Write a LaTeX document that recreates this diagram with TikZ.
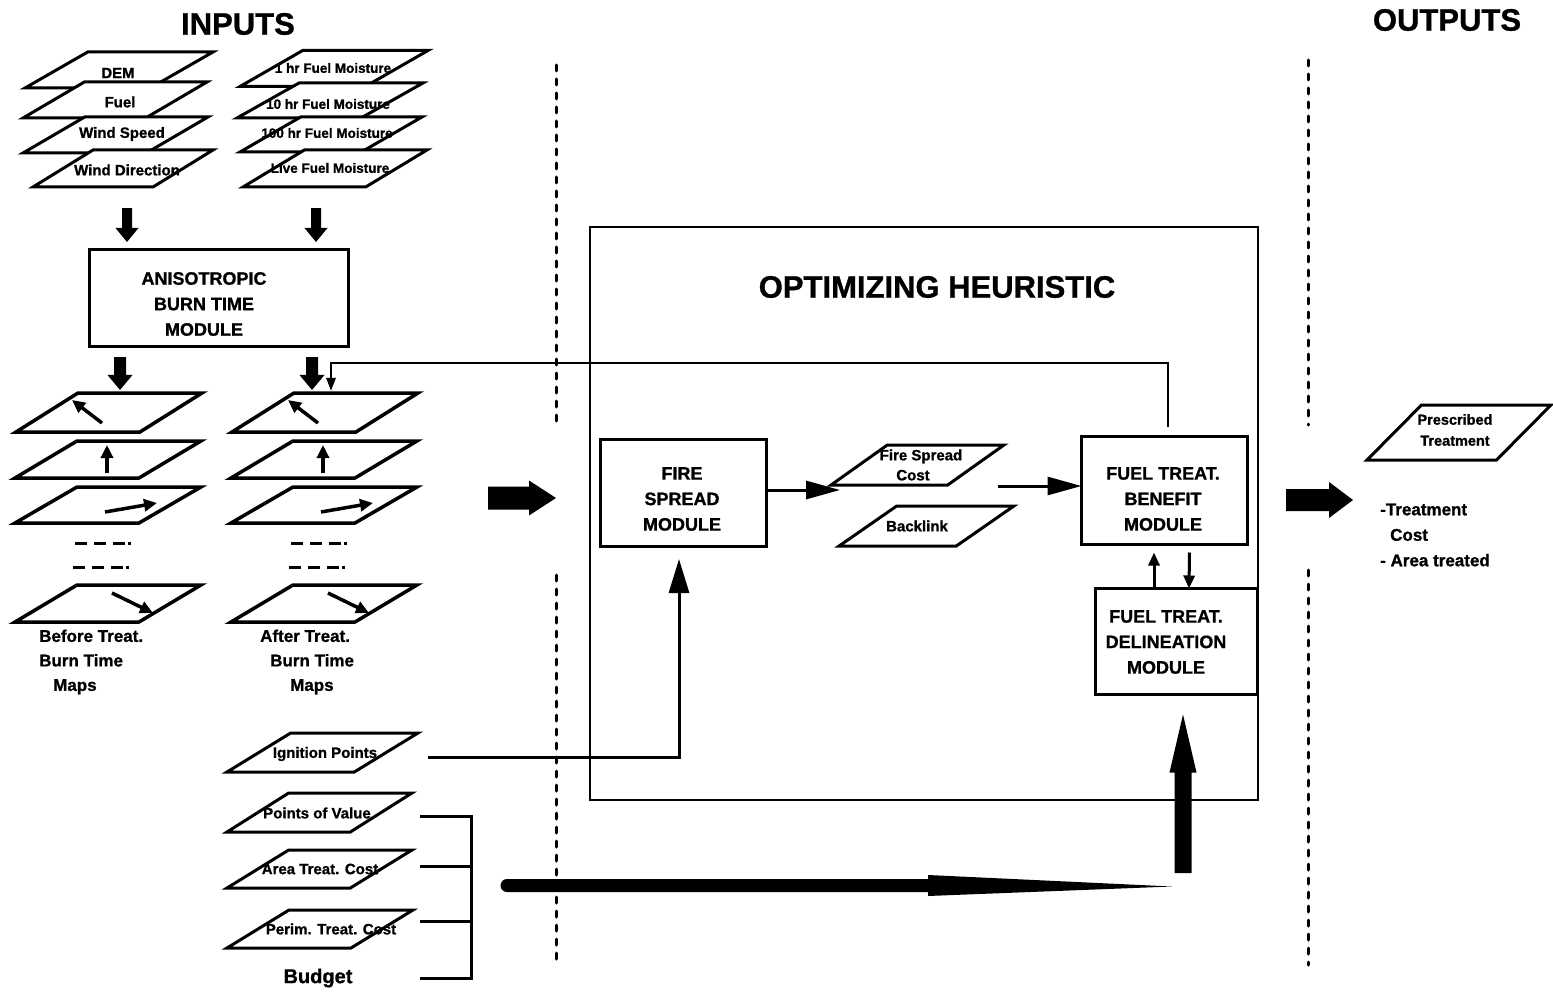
\documentclass[tikz,border=0pt]{standalone}
\usepackage{fontspec}
\setmainfont[BoldFeatures={FakeBold=1}]{Liberation Sans}
\usetikzlibrary{arrows.meta,shapes.geometric,calc}

\newcommand\fsz[2]{\fontsize{#1}{#2}\selectfont\bfseries}

% filled block arrows (shaft width, head width, head length)
\newcommand\blockdown[5]{%
  \fill let \p1=#1, \p2=#2 in
    ({\x1-0.5*(#3)},\y1) -- ({\x1+0.5*(#3)},\y1) -- ({\x1+0.5*(#3)},{\y2+(#5)})
    -- ({\x1+0.5*(#4)},{\y2+(#5)}) -- (\x1,\y2) -- ({\x1-0.5*(#4)},{\y2+(#5)})
    -- ({\x1-0.5*(#3)},{\y2+(#5)}) -- cycle;}
\newcommand\blockup[5]{%
  \fill let \p1=#1, \p2=#2 in
    ({\x1-0.5*(#3)},\y1) -- ({\x1+0.5*(#3)},\y1) -- ({\x1+0.5*(#3)},{\y2-(#5)})
    -- ({\x1+0.5*(#4)},{\y2-(#5)}) -- (\x1,\y2) -- ({\x1-0.5*(#4)},{\y2-(#5)})
    -- ({\x1-0.5*(#3)},{\y2-(#5)}) -- cycle;}
\newcommand\blockright[5]{%
  \fill let \p1=#1, \p2=#2 in
    (\x1,{\y1-0.5*(#3)}) -- (\x1,{\y1+0.5*(#3)}) -- ({\x2-(#5)},{\y1+0.5*(#3)})
    -- ({\x2-(#5)},{\y1+0.5*(#4)}) -- (\x2,\y1) -- ({\x2-(#5)},{\y1-0.5*(#4)})
    -- ({\x2-(#5)},{\y1-0.5*(#3)}) -- cycle;}

\tikzset{
  layer/.style={trapezium, trapezium left angle=45, trapezium right angle=135,
    trapezium stretches=true, draw, fill=white, line width=3pt,
    inner sep=2pt, outer sep=0pt},
  maplayer/.style={layer, line width=3.5pt, minimum width=186pt},
  module/.style={draw, line width=3pt, fill=white, inner sep=0pt, outer sep=0pt},
  title/.style={font=\fsz{31}{36}, inner sep=0pt},
  modtxt/.style={font=\fsz{18}{25.5}, align=center, inner sep=0pt},
  lbl/.style={font=\fsz{15}{18}, inner sep=0pt},
  tinylbl/.style={font=\fsz{13.5}{16}, inner sep=0pt},
  maptxt/.style={font=\fsz{17}{24.5}, align=left, inner sep=0pt, anchor=west},
  marr/.style={line width=3.5pt, -{Triangle[length=13pt,width=12pt]}},
  conn/.style={line width=3pt, -{Triangle[length=34pt,width=18pt]}},
  small/.style={line width=3pt, -{Triangle[length=13pt,width=11pt]}},
  fb/.style={line width=2.5pt, -{Triangle[length=13pt,width=9pt]}},
  plain/.style={line width=3pt},
  sep/.style={line width=3pt, line cap=round, dash pattern=on 6pt off 8pt},
  dashrow/.style={line width=3pt, dash pattern=on 12pt off 7pt},
}

\begin{document}
\begin{tikzpicture}[x=1pt,y=-1pt]
\useasboundingbox (0,0) rectangle (1553,995);

% ---------- titles ----------
\node[title] (inputs) at (238,24) {INPUTS};
\node[title] (outputs) at (1447,20) {OUTPUTS};

% ---------- input layers ----------
\node[layer, minimum width=188pt, minimum height=36pt] (dem) at (119,70) {};
\node[lbl] (t-dem) at (118,73) {DEM};
\node[layer, minimum width=184pt, minimum height=36pt] (fuel) at (115,100) {};
\node[lbl] (t-fuel) at (120,102) {Fuel};
\node[layer, minimum width=185pt, minimum height=36pt] (wspd) at (115.5,135) {};
\node[lbl] (t-wspd) at (122,134) {Wind Speed};
\node[layer, minimum width=180pt, minimum height=37pt] (wdir) at (123,168.5) {};
\node[lbl] (t-wdir) at (127,170) {Wind Direction};

\node[layer, minimum width=188pt, minimum height=36pt] (m1) at (334,68.5) {};
\node[tinylbl] (t-m1) at (333,68) {1 hr Fuel Moisture};
\node[layer, minimum width=186pt, minimum height=35pt] (m10) at (330,100.5) {};
\node[tinylbl] (t-m10) at (328,104) {10 hr Fuel Moisture};
\node[layer, minimum width=182pt, minimum height=35pt] (m100) at (331,134.5) {};
\node[tinylbl] (t-m100) at (327,133) {100 hr Fuel Moisture};
\node[layer, minimum width=184pt, minimum height=37pt] (mlive) at (335,168.5) {};
\node[tinylbl] (t-mlive) at (330,168) {Live Fuel Moisture};

% ---------- burn time module ----------
\node[module, minimum width=259pt, minimum height=96pt] (aniso) at (219,298) {};
\node[modtxt] (t-aniso) at (204,304) {ANISOTROPIC\\BURN TIME\\MODULE};

\blockdown{([xshift=4pt,yshift=-21pt]wdir.south)}{([xshift=-92pt,yshift=8pt]aniso.north)}{10pt}{23pt}{14pt}
\blockdown{([xshift=-19pt,yshift=-21pt]mlive.south)}{([xshift=97pt,yshift=8pt]aniso.north)}{10pt}{23pt}{14pt}

% ---------- burn time maps ----------
\foreach \side/\dx in {b/0, a/216} {
  \node[maplayer, minimum height=39pt] (\side1) at (109+\dx,412.5) {};
  \draw[marr] ($(\side1.center)+(-7,10.5)$) -- ($(\side1.center)+(-37,-12.5)$);
  \node[maplayer, minimum height=37pt] (\side2) at (108+\dx,459.5) {};
  \draw[marr] ($(\side2.center)+(-1,13.5)$) -- ($(\side2.center)+(-1,-14.5)$);
  \node[maplayer, minimum height=36pt] (\side3) at (108+\dx,505) {};
  \draw[marr] ($(\side3.center)+(-3,7)$) -- ($(\side3.center)+(49,-2)$);
  \node[maplayer, minimum height=37pt] (\side4) at (108+\dx,603.5) {};
  \draw[marr] ($(\side4.center)+(4,-10.5)$) -- ($(\side4.center)+(45,9.5)$);
  \draw[dashrow] (75+\dx,543) -- (125+\dx,543);
  \draw[line width=3pt] (128+\dx,543) -- (131+\dx,543);
  \draw[dashrow] (73+\dx,567) -- (123+\dx,567);
  \draw[line width=3pt] (126+\dx,567) -- (129+\dx,567);
}
\node[maptxt] (t-before) at (39,662) {Before Treat.\\Burn Time\\\hspace*{14pt}Maps};
\node[maptxt] (t-after) at (260,662) {After Treat.\\\hspace*{10pt}Burn Time\\\hspace*{30pt}Maps};

\blockdown{([xshift=-99pt,yshift=-11pt]aniso.south)}{([xshift=11pt,yshift=3pt]b1.north)}{12pt}{25pt}{15pt}
\blockdown{([xshift=93pt,yshift=-11pt]aniso.south)}{([xshift=-13pt,yshift=3pt]a1.north)}{12pt}{25pt}{15pt}

% ---------- other inputs ----------
\node[layer, minimum width=191pt, minimum height=39pt] (ign) at (322.5,752.5) {};
\node[lbl] (t-ign) at (325,754) {Ignition Points};
\node[layer, minimum width=185pt, minimum height=39pt] (pov) at (319.5,812.5) {};
\node[lbl] (t-pov) at (317,813) {Points of Value};
\node[layer, minimum width=185pt, minimum height=38pt] (area) at (319.5,869) {};
\node[lbl] (t-area) at (320,869) {Area Treat. Cost};
\node[layer, minimum width=186pt, minimum height=38pt] (perim) at (320,929) {};
\node[lbl] (t-perim) at (331,929) {Perim. Treat. Cost};
\node[font=\fsz{20}{24}, inner sep=0pt] (budget) at (318,978) {Budget};

% bracket gathering the cost inputs
\coordinate (spinetop) at (471,816);
\coordinate (spinebot) at (471,978);
\draw[plain] (420,816) -- (spinetop) -- (spinebot) -- (420,978);
\draw[plain] (420,866) -- (spinetop |- 0,866);
\draw[plain] (420,921) -- (spinetop |- 0,921);

% ---------- separators ----------
\draw[sep] (556,65) -- (556,425);
\draw[sep] (556,575) -- (556,965);
\draw[sep] (1308,60) -- (1308,425);
\draw[sep] (1308,570) -- (1308,965);

% ---------- optimizing heuristic ----------
\node[draw, line width=2pt, minimum width=668pt, minimum height=573pt, inner sep=0pt] (opt) at (924,513.5) {};
\node[font=\fsz{31}{36}, inner sep=0pt] (t-opt) at (937,287) {OPTIMIZING HEURISTIC};

\node[module, minimum width=166pt, minimum height=107pt] (fs) at (683,492.5) {};
\node[modtxt] (t-fs) at (682,499) {FIRE\\SPREAD\\MODULE};
\node[module, minimum width=166pt, minimum height=108pt] (ben) at (1164.5,490.5) {};
\node[modtxt] (t-ben) at (1163,499) {FUEL TREAT.\\BENEFIT\\MODULE};
\node[module, minimum width=162pt, minimum height=106pt] (del) at (1176,641.5) {};
\node[modtxt] (t-del) at (1166,642) {FUEL TREAT.\\DELINEATION\\MODULE};

\node[layer, trapezium left angle=47, trapezium right angle=133,
      minimum width=173pt, minimum height=40pt] (cost) at (917.5,465) {};
\node[lbl, align=center, font=\fsz{15}{20}] (t-cost) at (921,465) {Fire Spread\\\hspace*{-16pt}Cost};
\node[layer, trapezium left angle=46, trapezium right angle=134,
      minimum width=175pt, minimum height=40pt] (back) at (926.5,526) {};
\node[lbl] (t-back) at (917,526) {Backlink};

\draw[conn] ([yshift=2.5pt]fs.east) -- ([xshift=9pt,yshift=-5pt]cost.bottom left corner);
\draw[conn] ([xshift=22.5pt,yshift=-21pt]cost.east) -- ([yshift=4.5pt]ben.west);
\draw[small] ([xshift=-22pt]del.north) -- ([xshift=-10.5pt,yshift=-8pt]ben.south);
\draw[small] ([xshift=25pt,yshift=-8pt]ben.south) -- ([xshift=13pt]del.north);

% feedback to the after-treatment maps
\draw[fb] ([xshift=3.5pt,yshift=10pt]ben.north) |- ([xshift=6pt,yshift=30pt]a1.north)
          -- ([xshift=6pt,yshift=2pt]a1.north);

% ignition points feed the fire spread module
\coordinate (ignout) at (428,757);
\draw[line width=3pt, -{Triangle[length=34pt,width=20pt]}] (ignout) -| ([xshift=-4pt,yshift=-13pt]fs.south);

% cost and budget feed the delineation module
\coordinate (costin) at (507,885.5);
\coordinate (costtip) at (1172,886.5);
\fill let \p1=(costin), \p2=(costtip) in
  (\x1,{\y1+6.5pt}) -- ({\x2-244pt},{\y1+6.5pt}) -- ({\x2-244pt},{\y1+10.5pt}) -- (\x2,\y2)
  -- ({\x2-244pt},{\y1-10.5pt}) -- ({\x2-244pt},{\y1-6.5pt}) -- (\x1,{\y1-6.5pt}) -- cycle;
\fill (costin) circle (6.5pt);
\coordinate (budin) at (1183,873);
\blockup{(budin)}{([xshift=7pt,yshift=-20pt]del.south)}{17pt}{27pt}{58pt}

% ---------- flow into and out of the heuristic ----------
\coordinate (mapsout) at (488,498);
\blockright{(mapsout)}{([xshift=-33pt,yshift=15.5pt]opt.west)}{23pt}{35pt}{27pt}
\coordinate (resout) at (1353,500);
\blockright{([xshift=27pt,yshift=13.5pt]opt.east)}{(resout)}{22pt}{36pt}{24pt}

% ---------- outputs ----------
\node[layer, trapezium left angle=54, trapezium right angle=126,
      minimum width=184pt, minimum height=55pt] (presc) at (1459,432.5) {};
\node[lbl, align=center, font=\fsz{14.5}{21}] (t-presc) at (1455,430) {Prescribed\\Treatment};
\node[maptxt, font=\fsz{17}{25.5}] (t-out) at (1380,535) {-Treatment\\\hspace*{10pt}Cost\\- Area treated};

\end{tikzpicture}
\end{document}
